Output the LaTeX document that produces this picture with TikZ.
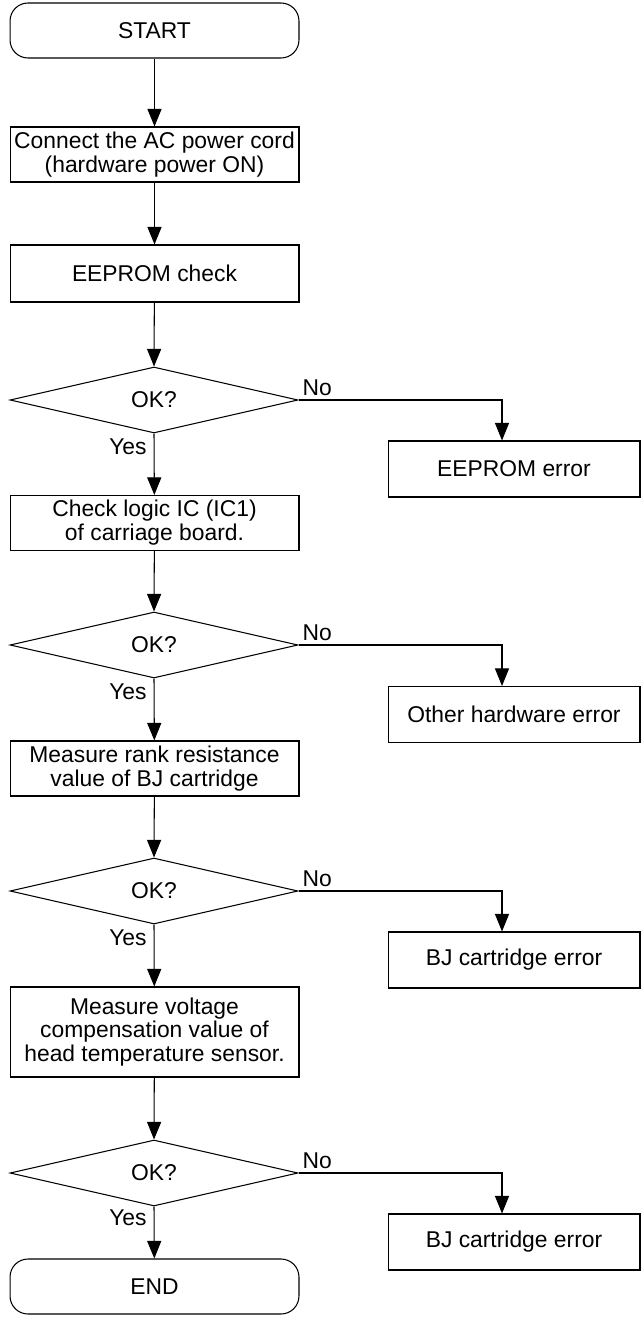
\documentclass[tikz,border=0pt]{standalone}
\usepackage{fontspec}
\setmainfont{Liberation Sans}
\usetikzlibrary{shapes.geometric,arrows.meta,positioning,calc}

\begin{document}
\begin{tikzpicture}[x=0.02cm, y=-0.02cm, >={Triangle[length=10pt,width=8pt]},
    txt/.style={font=\fontsize{13}{13.6}\selectfont},
    stepbox/.style={txt, draw, line width=0.6pt, minimum width=5.78cm, minimum height=1.1cm, inner sep=1pt, align=center},
    errbox/.style={txt, draw, line width=0.6pt, minimum width=5.04cm, minimum height=1.12cm, inner sep=1pt},
    termbox/.style={stepbox, rounded corners=0.36cm},
    okq/.style={txt, draw, line width=0.6pt, diamond, aspect=4, minimum width=5.76cm, minimum height=1.32cm, inner sep=0pt},
    flow/.style={->, line width=0.6pt},
    lbl/.style={txt, inner sep=2pt}]
    \useasboundingbox (0,0) rectangle (641,1317);

    % Main column
    \node[termbox] (start) at (154.5, 30.5) {START};
    \node[stepbox] (power) at (154.5, 154.5) {Connect the AC power cord\\(hardware power ON)};
    \node[stepbox, minimum height=1.14cm] (eeprom) at (154.5, 273.5) {EEPROM check};
    \node[okq] (ok1) at (154, 400) {OK?};
    \node[stepbox] (logic) at (154.5, 523) {Check logic IC (IC1)\\of carriage board.};
    \node[okq] (ok2) at (154, 645) {OK?};
    \node[stepbox] (rank) at (154.5, 768.5) {Measure rank resistance\\value of BJ cartridge};
    \node[okq] (ok3) at (154, 891) {OK?};
    \node[stepbox, minimum height=1.8cm] (volt) at (154.5, 1032) {Measure voltage\\compensation value of\\head temperature sensor.};
    \node[okq] (ok4) at (154, 1173) {OK?};
    \node[termbox] (end) at (154.5, 1286.5) {END};

    % Error boxes
    \node[errbox] (err1) at (514, 469) {EEPROM error};
    \node[errbox] (err2) at (514, 714.5) {Other hardware error};
    \node[errbox] (err3) at (514, 960) {BJ cartridge error};
    \node[errbox] (err4) at (514, 1242) {BJ cartridge error};
    \coordinate (nocol) at (502, 0);

    % Yes path
    \draw[flow] (start) -- (power);
    \draw[flow] (power) -- (eeprom);
    \draw[flow] (eeprom) -- (ok1.north);
    \draw[flow] (ok1.south) -- node[lbl, pos=0.22, left=2pt] {Yes} (logic);
    \draw[flow] (logic) -- (ok2.north);
    \draw[flow] (ok2.south) -- node[lbl, pos=0.22, left=2pt] {Yes} (rank);
    \draw[flow] (rank) -- (ok3.north);
    \draw[flow] (ok3.south) -- node[lbl, pos=0.22, left=2pt] {Yes} (volt);
    \draw[flow] (volt) -- (ok4.north);
    \draw[flow] (ok4.south) -- node[lbl, pos=0.22, left=2pt] {Yes} (end);

    % No path
    \draw[flow] (ok1.east) -| node[lbl, pos=0, above right] {No} (err1.north -| nocol);
    \draw[flow] (ok2.east) -| node[lbl, pos=0, above right] {No} (err2.north -| nocol);
    \draw[flow] (ok3.east) -| node[lbl, pos=0, above right] {No} (err3.north -| nocol);
    \draw[flow] (ok4.east) -| node[lbl, pos=0, above right] {No} (err4.north -| nocol);
\end{tikzpicture}
\end{document}
